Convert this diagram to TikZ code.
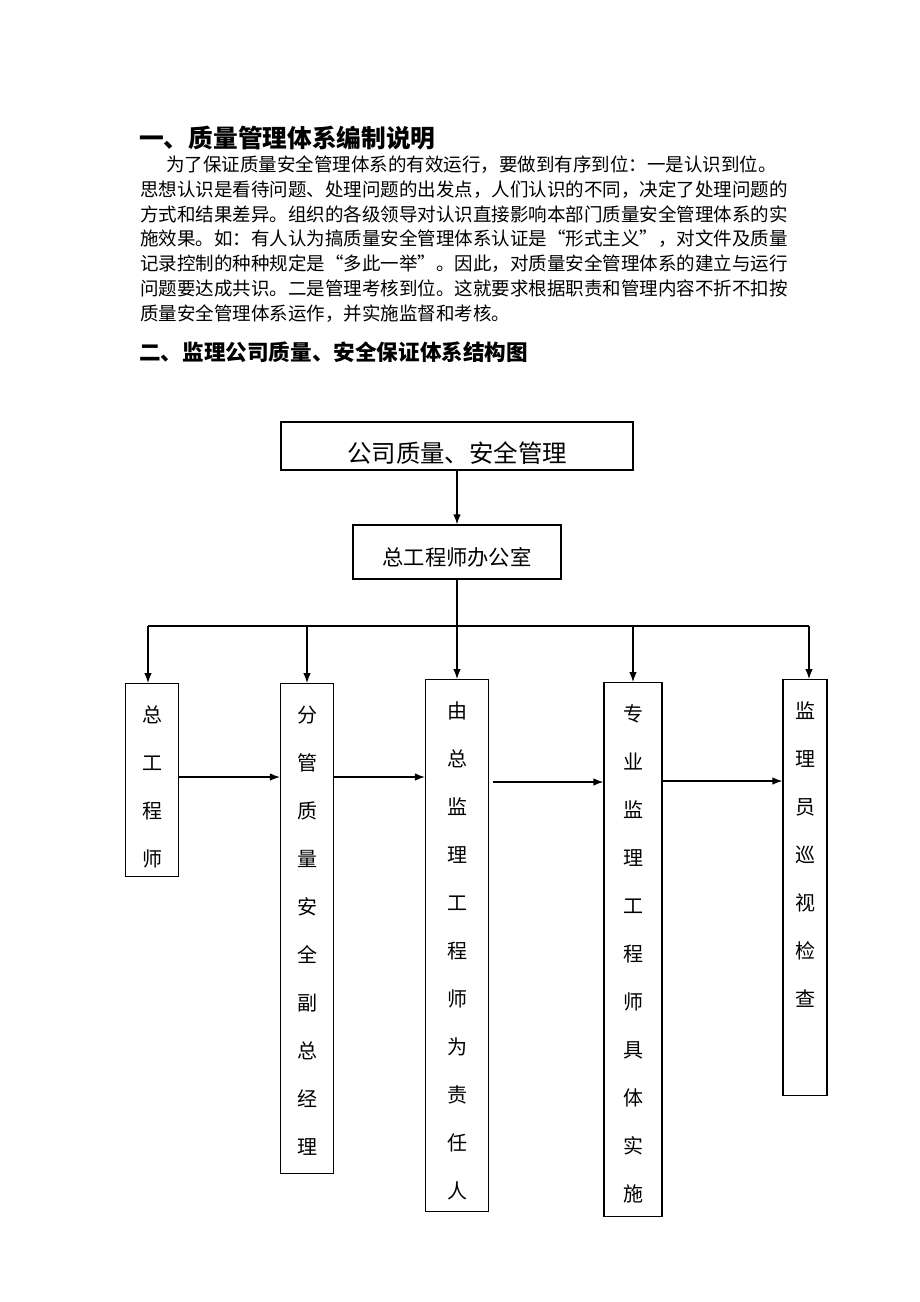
\documentclass[tikz,border=0pt]{standalone}
\usepackage{fontspec}
\setmainfont{Noto Sans CJK SC}
\usetikzlibrary{positioning,arrows.meta}
\newcommand{\vcol}[3]{\parbox[c][#2][t]{#1}{\centering\fontsize{20}{48}\selectfont\rule{0pt}{38.6pt}#3}}

\begin{document}
\begin{tikzpicture}
		[x=1pt,y=-1pt,
		 box/.style={draw,line width=1.2pt,inner sep=0pt},
		 link/.style={-{Latex[length=10pt,width=7.5pt]},line width=1.2pt},
		 para/.style={anchor=base west,inner sep=0pt,font=\fontsize{18.5}{24.8}\selectfont}]
		\useasboundingbox (0,0) rectangle (920,1302);

		% headings and the text
		\node [anchor=base west,inner sep=0pt,font=\bfseries\fontsize{24.7}{30}\selectfont] (title1) at (139,147.4) {一、质量管理体系编制说明};
		\foreach \txt [count=\i] in {\hspace{26pt}为了保证质量安全管理体系的有效运行，要做到有序到位：一是认识到位。,
			思想认识是看待问题、处理问题的出发点，人们认识的不同，决定了处理问题的,
			方式和结果差异。组织的各级领导对认识直接影响本部门质量安全管理体系的实,
			施效果。如：有人认为搞质量安全管理体系认证是“形式主义”，对文件及质量,
			记录控制的种种规定是“多此一举”。因此，对质量安全管理体系的建立与运行,
			问题要达成共识。二是管理考核到位。这就要求根据职责和管理内容不折不扣按,
			质量安全管理体系运作，并实施监督和考核。}
			\node [para] (line\i) at (140,{171.5+24.8*(\i-1)}) {\txt};
		\node [anchor=base west,inner sep=0pt,font=\bfseries\fontsize{21.6}{26}\selectfont] (title2) at (139,360) {二、监理公司质量、安全保证体系结构图};

		% draw the two top boxes
		\node [box,minimum width=352pt,minimum height=48pt,text height=35.6pt,text depth=3pt,font=\fontsize{24.4}{28}\selectfont] (gszl) at (457,446) {公司质量、安全管理};
		\node [box,minimum width=208pt,minimum height=54pt,text height=29.2pt,text depth=3pt,font=\fontsize{21.3}{26}\selectfont] (zgbgs) at (457,552) {总工程师办公室};
		\draw [link] (gszl) -- (zgbgs);

		% draw the five columns
		\node [box,anchor=north] (zgcs) at (152,683) {\vcol{53pt}{193pt}{总\\工\\程\\师}};
		\node [box,anchor=north] (fgfz) at (307,683) {\vcol{53pt}{490pt}{分\\管\\质\\量\\安\\全\\副\\总\\经\\理}};
		\node [box,anchor=north] (zjlg) at (457,679) {\vcol{63pt}{532pt}{由\\总\\监\\理\\工\\程\\师\\为\\责\\任\\人}};
		\node [box,anchor=north] (zyjl) at (633,682) {\vcol{58pt}{534pt}{专\\业\\监\\理\\工\\程\\师\\具\\体\\实\\施}};
		\node [box,anchor=north] (jlyx) at (805,679) {\vcol{44pt}{416pt}{监\\理\\员\\巡\\视\\检\\查}};

		% draw the branch
		\coordinate (barL) at (148,626);
		\coordinate (barR) at (809,626);
		\draw [line width=1.2pt] (zgbgs) -- (zgbgs |- barL);
		\draw [line width=1.2pt] (barL) -- (barR);
		\draw [link] (barL) -- (barL |- zgcs.north);
		\draw [link] (fgfz.north |- barL) -- (fgfz.north);
		\draw [link] (zjlg.north |- barL) -- (zjlg.north);
		\draw [link] (zyjl.north |- barL) -- (zyjl.north);
		\draw [link] (barR) -- (barR |- jlyx.north);

		% draw the flow between the columns
		\draw [link] (zgcs.east |- 0,777) -- (fgfz.west |- 0,777);
		\draw [link] (fgfz.east |- 0,777) -- (zjlg.west |- 0,777);
		\draw [link] (zjlg.east |- 0,782) ++(4,0) -- (zyjl.west |- 0,782);
		\draw [link] (zyjl.east |- 0,781) -- (jlyx.west |- 0,781);
	\end{tikzpicture}
\end{document}
